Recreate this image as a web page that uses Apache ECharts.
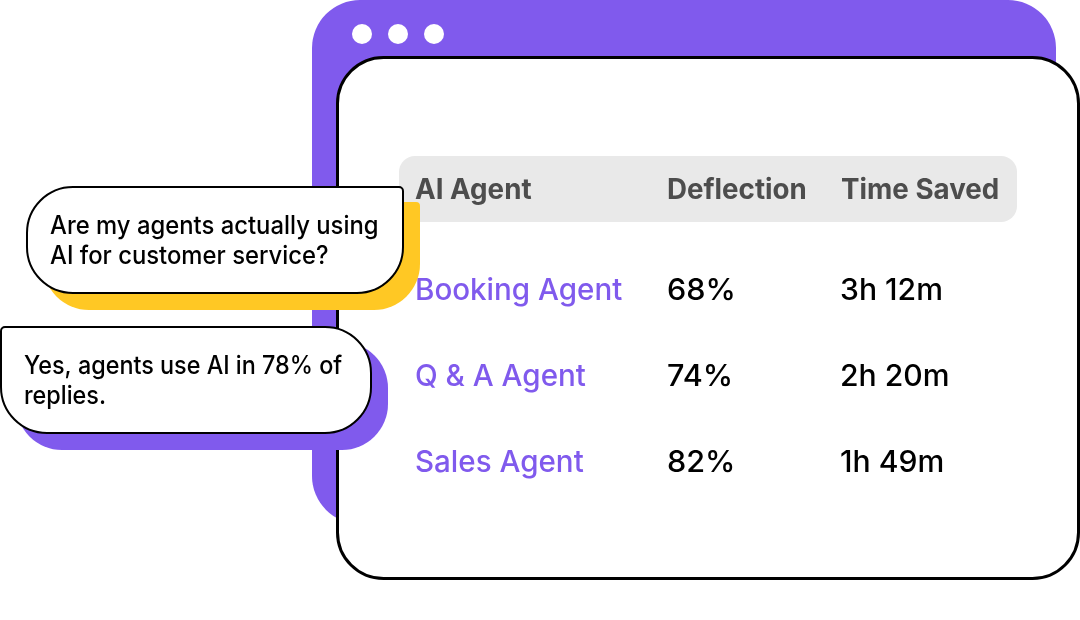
<!DOCTYPE html>
<html lang="en">
<head>
    <meta charset="UTF-8">
    <title>AI Agent table</title>
    <script src="https://cdn.jsdelivr.net/npm/echarts@6/dist/echarts.min.js"></script>
    <style>
        html, body { margin: 0; padding: 0; background: #fff; }
    </style>
</head>
<body>
<div id="main" style="width: 1080px;height: 620px;"></div>

<script type="text/javascript">
    const headers = ['AI Agent', 'Deflection', 'Time Saved']
    const agents = ['Booking Agent', 'Q & A Agent', 'Sales Agent']
    const deflection = ['68%', '74%', '82%']
    const timeSaved = ['3h 12m', '2h 20m', '1h 49m']
    const question = ['Are my agents actually using', 'AI for customer service?']
    const answer = ['Yes, agents use AI in 78% of', 'replies.']

    const purple = '#805AED'
    const yellow = '#FFC824'
    const font = 'Inter'

    function box(x, y, width, height, r, fill, stroke, lineWidth) {
        return {
            type: 'rect',
            shape: { x, y, width, height, r },
            style: { fill, stroke: stroke || null, lineWidth: lineWidth || 0 }
        }
    }

    // the reference type is set tighter than canvas text, squeeze == horizontal scale
    function label(text, x, y, size, weight, color, squeeze) {
        return {
            type: 'text',
            x, y,
            scaleX: squeeze || 1,
            style: { text, fontFamily: font, fontSize: size, fontWeight: weight, fill: color, textVerticalAlign: 'middle' }
        }
    }

    const els = []

    // window
    els.push(box(312, 0, 744, 524, 48, purple))
    ;[362, 398, 434].forEach(cx => {
        els.push({ type: 'circle', shape: { cx, cy: 34, r: 10 }, style: { fill: '#fff' } })
    })
    els.push(box(337.5, 57.5, 741, 521, 46, '#fff', '#000', 3))

    // table
    els.push(box(399, 156, 618, 66, 16, '#E9E9E9'))
    const headerX = [415, 667, 841]
    headers.forEach((h, i) => els.push(label(h, headerX[i], 190.5, 28, 700, '#4D4D4D', 0.99)))

    const rowY = [291, 377, 463]
    agents.forEach((a, i) => {
        els.push(label(a, 415, rowY[i], 30, 500, purple, 0.985))
        els.push(label(deflection[i], 667, rowY[i], 30, 500, '#000', 1.02))
        els.push(label(timeSaved[i], 840, rowY[i], 30, 500, '#000', 1.005))
    })

    // question bubble
    els.push(box(43, 202, 377, 108, [46, 4, 46, 46], yellow))
    els.push(box(27, 187, 376, 106, [46, 4, 46, 46], '#fff', '#000', 2))
    question.forEach((t, i) => els.push(label(t, 50, 226.5 + i * 29.5, 25.5, 500, '#000', 0.935)))

    // answer bubble
    els.push(box(16, 342, 372, 108, [4, 46, 46, 46], purple))
    els.push(box(1, 327, 370, 106, [4, 46, 46, 46], '#fff', '#000', 2))
    answer.forEach((t, i) => els.push(label(t, 24, 366.5 + i * 29.5, 25.5, 500, '#000', 0.917)))

    const myChart = echarts.init(document.getElementById('main'))
    myChart.setOption({
        animation: false,
        graphic: { elements: els }
    })
</script>
</body>
</html>
